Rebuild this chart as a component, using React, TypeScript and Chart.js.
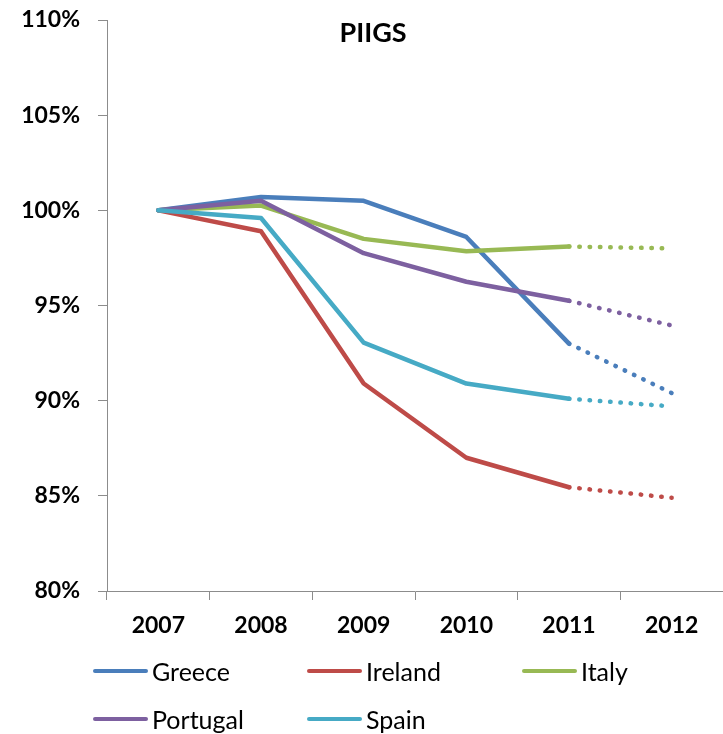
import React, { useEffect, useRef } from "react";
import { Chart, registerables } from "chart.js";

Chart.register(...registerables);

const years = ["2007", "2008", "2009", "2010", "2011", "2012"];
const greece = [100, 100.7, 100.5, 98.6, 93.0, 90.4];
const ireland = [100, 98.9, 90.9, 87.0, 85.45, 84.9];
const italy = [100, 100.25, 98.5, 97.85, 98.1, 98.0];
const portugal = [100, 100.5, 97.75, 96.25, 95.25, 93.95];
const spain = [100, 99.6, 93.05, 90.9, 90.1, 89.7];
const seriesNames = ["Greece", "Ireland", "Italy", "Portugal", "Spain"];
const seriesColors = ["#4A7EBB", "#BE4B48", "#98B954", "#7D60A0", "#46AAC5"];
const titleText = "PIIGS";

const FONT = "Lato, 'Open Sans', sans-serif";

const titlePlugin = {
  id: "overlayTitle",
  afterDraw(chart: any) {
    const { ctx, chartArea } = chart;
    ctx.save();
    ctx.font = `bold 27px ${FONT}`;
    ctx.fillStyle = "#000";
    ctx.textAlign = "center";
    ctx.textBaseline = "middle";
    const x = chartArea.left + (chartArea.right - chartArea.left) * 0.432;
    ctx.fillText(titleText, x, chartArea.top + 13);
    ctx.restore();
  },
};

export default function App() {
  const ref = useRef<HTMLCanvasElement>(null);

  useEffect(() => {
    document.body.style.margin = "0";
    const all = [greece, ireland, italy, portugal, spain];
    const chart = new Chart(ref.current!, {
      type: "line",
      data: {
        labels: years,
        datasets: all.map((d, i) => ({
          label: seriesNames[i],
          data: d,
          borderColor: seriesColors[i],
          backgroundColor: seriesColors[i],
          borderWidth: 4.5,
          pointRadius: 0,
          borderJoinStyle: "round" as const,
          borderCapStyle: "round" as const,
          tension: 0,
          order: all.length - i,
          segment: {
            borderDash: (c: any) => (c.p0DataIndex === 4 ? [0.5, 9.8] : undefined),
          },
        })),
      },
      options: {
        animation: false,
        responsive: false,
        layout: { padding: { top: 20, left: 0, right: 0, bottom: 0 } },
        plugins: {
          legend: { display: false },
          title: { display: false },
          tooltip: { enabled: false },
        },
        scales: {
          x: {
            offset: true,
            grid: {
              offset: true,
              drawOnChartArea: false,
              drawTicks: true,
              tickLength: 9,
              color: "#8C8C8C",
            },
            border: { color: "#8C8C8C", width: 1 },
            ticks: {
              font: { family: FONT, size: 23, weight: "bold" },
              color: "#000",
              padding: 12,
              maxRotation: 0,
            },
            afterFit: (s: any) => {
              s.height = 143;
              s.paddingLeft = 0;
              s.paddingRight = 0;
            },
          },
          y: {
            min: 80,
            max: 110,
            grid: {
              drawOnChartArea: false,
              drawTicks: true,
              tickLength: 9,
              color: "#8C8C8C",
            },
            border: { color: "#8C8C8C", width: 1 },
            ticks: {
              stepSize: 5,
              font: { family: FONT, size: 23, weight: "bold" },
              color: "#000",
              padding: 18,
              callback: (v: any) => `${Math.round(Number(v))}%`,
            },
            afterFit: (s: any) => {
              s.width = 107;
              s.paddingTop = 0;
              s.paddingBottom = 0;
            },
          },
        },
      },
      plugins: [titlePlugin],
    });
    return () => chart.destroy();
  }, []);

  const legendPos = [
    { left: 93, top: 671 },
    { left: 307, top: 671 },
    { left: 522, top: 671 },
    { left: 93, top: 719 },
    { left: 307, top: 719 },
  ];

  return (
    <div style={{ position: "relative", width: 723, height: 734 }}>
      <canvas ref={ref} width={723} height={734} style={{ display: "block" }} />
      {seriesNames.map((n, i) => (
        <div
          key={n}
          style={{
            position: "absolute",
            left: legendPos[i].left,
            top: legendPos[i].top - 15,
            height: 30,
            display: "flex",
            alignItems: "center",
            fontFamily: FONT,
            fontSize: 25,
            color: "#000",
            whiteSpace: "nowrap",
          }}
        >
          <span
            style={{
              display: "inline-block",
              width: 55,
              height: 4.5,
              borderRadius: 2,
              background: seriesColors[i],
              marginRight: 4,
            }}
          />
          <span>{n}</span>
        </div>
      ))}
    </div>
  );
}
